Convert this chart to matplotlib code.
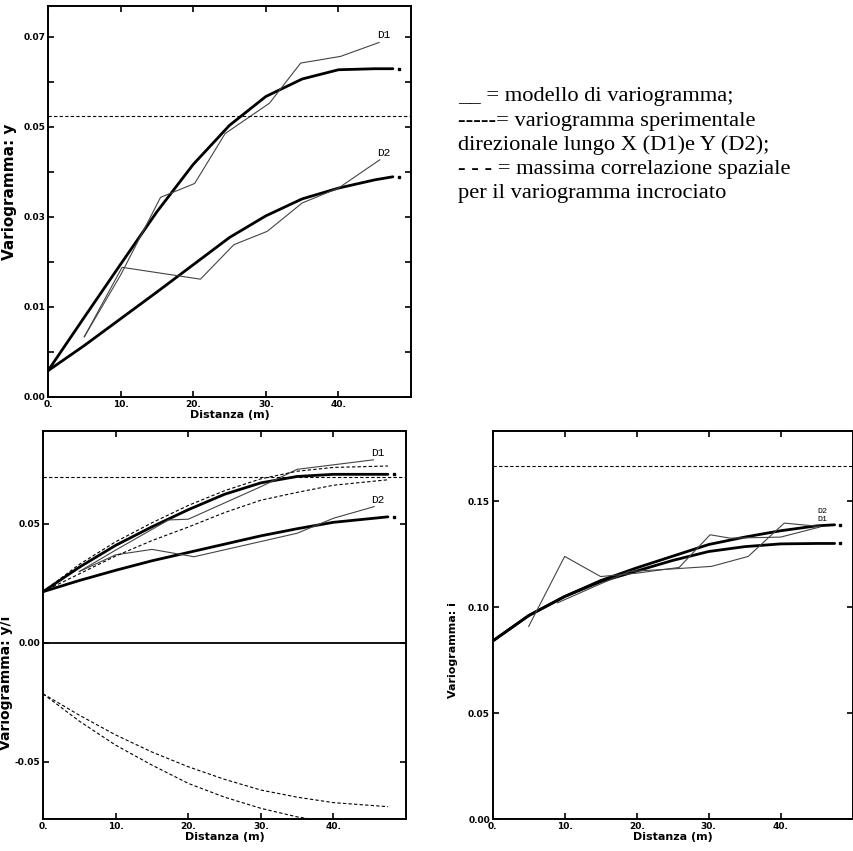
import matplotlib
matplotlib.use("Agg")
import matplotlib.pyplot as plt


# ---------------- top-left panel: variogramma y ----------------
tl_model_x = [0, 5, 10, 15, 20, 25, 30, 35, 40, 45, 47.5]
tl_d1_model = [0.0051, 0.0155, 0.0258, 0.0360, 0.0452, 0.0528, 0.0584, 0.0618, 0.0636, 0.0638, 0.0638]
tl_d2_model = [0.0051, 0.0100, 0.0152, 0.0204, 0.0257, 0.0310, 0.0352, 0.0385, 0.0406, 0.0422, 0.0428]
tl_d1_exp_x = [5, 10, 15.5, 20.2, 24.4, 30.5, 34.8, 40.3, 45.6]
tl_d1_exp = [0.0117, 0.0237, 0.0388, 0.0415, 0.0512, 0.0571, 0.0649, 0.0662, 0.0689]
tl_d2_exp_x = [5, 10.2, 21.0, 25.6, 30.2, 35.0, 40.0, 45.7]
tl_d2_exp = [0.0117, 0.0252, 0.0229, 0.0296, 0.0322, 0.0377, 0.0406, 0.0461]
tl_sill = 0.0547
tl_yticks = [0, 0.0175, 0.035, 0.0525, 0.07]
tl_yticklabels = ["0.00", "0.01", "0.03", "0.05", "0.07"]

# ---------------- bottom-left panel: variogramma incrociato y/i ----------------
bl_x = [0, 5, 10, 15, 20, 25, 30, 35, 40, 47.5]
bl_d1_model = [0.0215, 0.0318, 0.0410, 0.0488, 0.0560, 0.0625, 0.0673, 0.0700, 0.0709, 0.0709]
bl_d2_model = [0.0215, 0.0262, 0.0305, 0.0345, 0.0380, 0.0415, 0.0450, 0.0480, 0.0507, 0.0530]
bl_d1_exp_x = [5, 10, 17.3, 20, 30, 35, 40, 45.5]
bl_d1_exp = [0.0300, 0.0390, 0.0517, 0.0520, 0.0657, 0.0730, 0.0749, 0.0770]
bl_d2_exp_x = [5, 10, 15, 20.8, 35, 40, 45.6]
bl_d2_exp = [0.0300, 0.0370, 0.0393, 0.0362, 0.0461, 0.0524, 0.0573]
bl_pos_upper = [0.0215, 0.0330, 0.0425, 0.0505, 0.0578, 0.0640, 0.0690, 0.0722, 0.0738, 0.0744]
bl_pos_lower = [0.0215, 0.0290, 0.0365, 0.0430, 0.0487, 0.0548, 0.0600, 0.0633, 0.0663, 0.0686]
bl_neg_upper = [-0.0215, -0.0305, -0.0388, -0.0460, -0.0522, -0.0575, -0.0620, -0.0650, -0.0673, -0.0690]
bl_neg_lower = [-0.0215, -0.0330, -0.0431, -0.0515, -0.0592, -0.0650, -0.0697, -0.0733, -0.0758, -0.0770]
bl_sill = 0.0699
bl_yticks = [-0.05, 0.0, 0.05]
bl_yticklabels = ["-0.05", "0.00", "0.05"]

# ---------------- bottom-right panel: variogramma i ----------------
br_model_x = [0, 5, 10, 15, 20, 25, 30, 35, 40, 45, 47.5]
br_d2_model = [0.0840, 0.0960, 0.1050, 0.1125, 0.1185, 0.1240, 0.1295, 0.1330, 0.1360, 0.1383, 0.1388]
br_d1_model = [0.0840, 0.0960, 0.1050, 0.1120, 0.1170, 0.1220, 0.1262, 0.1285, 0.1298, 0.1300, 0.1300]
br_d1_exp_x = [5, 10, 15, 20, 25.9, 30.2, 33, 40, 45.5]
br_d1_exp = [0.0909, 0.1239, 0.1144, 0.1160, 0.1187, 0.1341, 0.1325, 0.1330, 0.1378]
br_d2_exp_x = [9, 15, 19, 25, 30.4, 35.5, 40.5, 45.5]
br_d2_exp = [0.1020, 0.1110, 0.1168, 0.1180, 0.1192, 0.1239, 0.1396, 0.1380]
br_sill = 0.1665
br_yticks = [0.0, 0.05, 0.10, 0.15]
br_yticklabels = ["0.00", "0.05", "0.10", "0.15"]

xticks = [0, 10, 20, 30, 40]
xticklabels = ["0.", "10.", "20.", "30.", "40."]

legend_lines = [
    "__ = modello di variogramma;",
    "-----= variogramma sperimentale",
    "direzionale lungo X (D1)e Y (D2);",
    "- - - = massima correlazione spaziale",
    "per il variogramma incrociato",
]

THICK = dict(color="black", linewidth=2.0, solid_capstyle="round")
THIN = dict(color="#444444", linewidth=0.8)
DASH = dict(color="black", linewidth=0.8, linestyle=(0, (3, 2)))


def style(ax, ylim, yticks, yticklabels, ylabel, ylab_size, ylab_pos, minor=None):
    ax.set_xlim(0, 50)
    ax.set_ylim(*ylim)
    ax.set_xticks(xticks)
    ax.set_xticklabels(xticklabels, fontsize=6.5, fontweight="bold")
    ax.set_yticks(yticks)
    ax.set_yticklabels(yticklabels, fontsize=6.5, fontweight="bold")
    if minor is not None:
        ax.set_yticks(minor, minor=True)
    ax.tick_params(which="both", direction="in", length=4, width=1.2,
                   top=True, right=True, pad=2)
    ax.tick_params(axis="x", which="minor", length=0)
    for s in ax.spines.values():
        s.set_linewidth(1.4)
    ax.set_xlabel("Distanza (m)", fontsize=8, fontweight="bold", labelpad=1)
    ax.set_ylabel(ylabel, fontsize=ylab_size, fontweight="bold")
    ax.yaxis.set_label_coords(*ylab_pos)


def end_dot(ax, x, y):
    ax.plot([x[-1] + 0.8], [y[-1]], marker="s", markersize=1.5, color="black")


fig = plt.figure(figsize=(8.54, 8.51), dpi=100)

# top-left
ax1 = fig.add_axes([0.0562, 0.5335, 0.4251, 0.4595])
ax1.plot(tl_model_x, tl_d1_model, **THICK)
ax1.plot(tl_model_x, tl_d2_model, **THICK)
ax1.plot(tl_d1_exp_x, tl_d1_exp, **THIN)
ax1.plot(tl_d2_exp_x, tl_d2_exp, **THIN)
ax1.axhline(tl_sill, **DASH)
end_dot(ax1, tl_model_x, tl_d1_model)
end_dot(ax1, tl_model_x, tl_d2_model)
ax1.text(46.2, 0.0704, "D1", fontsize=8, family="Liberation Mono", ha="center", va="center")
ax1.text(46.2, 0.0474, "D2", fontsize=8, family="Liberation Mono", ha="center", va="center")
style(ax1, (0, 0.0760), tl_yticks, tl_yticklabels, "Variogramma: y", 11, (-0.085, 0.525),
      minor=[0.00875, 0.02625, 0.04375, 0.06125])

# bottom-left
ax2 = fig.add_axes([0.0504, 0.0373, 0.4251, 0.4567])
ax2.axhline(0, color="black", linewidth=1.3)
ax2.plot(bl_x, bl_d1_model, **THICK)
ax2.plot(bl_x, bl_d2_model, **THICK)
ax2.plot(bl_d1_exp_x, bl_d1_exp, **THIN)
ax2.plot(bl_d2_exp_x, bl_d2_exp, **THIN)
ax2.plot(bl_x, bl_pos_upper, **DASH)
ax2.plot(bl_x, bl_pos_lower, **DASH)
ax2.plot(bl_x, bl_neg_upper, **DASH)
ax2.plot(bl_x, bl_neg_lower, **DASH)
ax2.axhline(bl_sill, **DASH)
end_dot(ax2, bl_x, bl_d1_model)
end_dot(ax2, bl_x, bl_d2_model)
ax2.text(46.1, 0.0798, "D1", fontsize=8, family="Liberation Mono", ha="center", va="center")
ax2.text(46.1, 0.0601, "D2", fontsize=8, family="Liberation Mono", ha="center", va="center")
style(ax2, (-0.0743, 0.0893), bl_yticks, bl_yticklabels, "Variogramma: y/i", 10, (-0.082, 0.35))

# bottom-right
ax3 = fig.add_axes([0.5769, 0.0373, 0.4215, 0.4567])
ax3.plot(br_model_x, br_d2_model, **THICK)
ax3.plot(br_model_x, br_d1_model, **THICK)
ax3.plot(br_d1_exp_x, br_d1_exp, **THIN)
ax3.plot(br_d2_exp_x, br_d2_exp, **THIN)
ax3.axhline(br_sill, **DASH)
end_dot(ax3, br_model_x, br_d2_model)
end_dot(ax3, br_model_x, br_d1_model)
ax3.text(45.8, 0.1450, "D2", fontsize=6, family="Liberation Mono", ha="center", va="center")
ax3.text(45.8, 0.1414, "D1", fontsize=6, family="Liberation Mono", ha="center", va="center")
style(ax3, (0, 0.1832), br_yticks, br_yticklabels, "Variogramma: i", 8, (-0.095, 0.435))

# legend text (top-right)
baselines = [0.8817, 0.8523, 0.8237, 0.7952, 0.7670]
for txt, yb in zip(legend_lines, baselines):
    fig.text(0.5363, yb, txt, fontsize=16.2, family="Liberation Serif",
             ha="left", va="baseline")

fig.savefig("out.png", dpi=100)
